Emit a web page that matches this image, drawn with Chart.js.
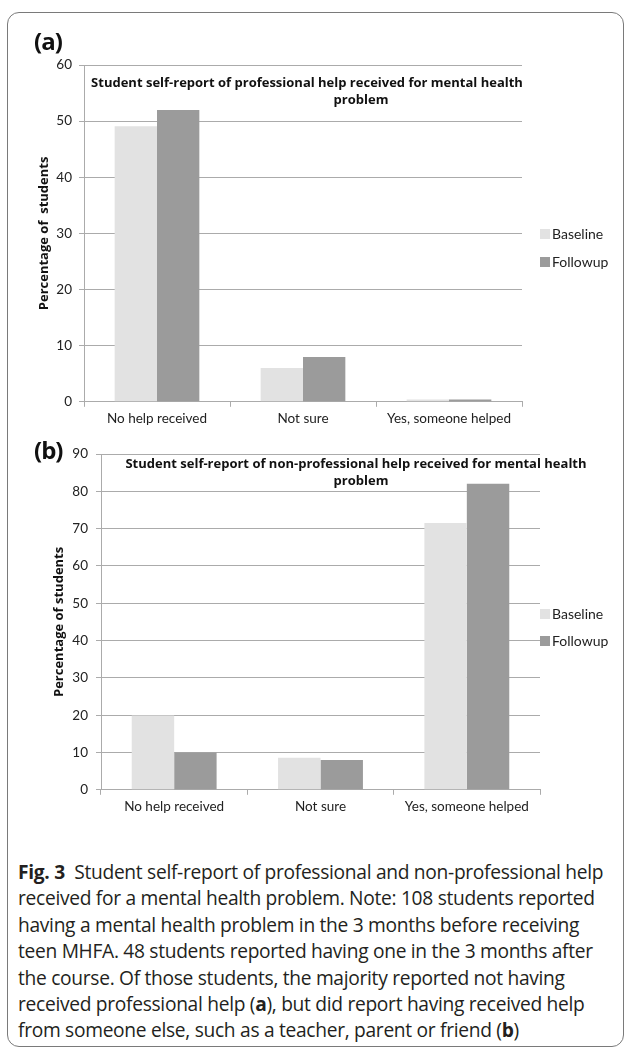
<!DOCTYPE html>
<html>
<head>
<meta charset="utf-8">
<script src="https://cdn.jsdelivr.net/npm/chart.js@4.4.0/dist/chart.umd.min.js"></script>
<style>
  body { margin: 0; background: #fff; width: 632px; height: 1052px; overflow: hidden; font-family: Lato, sans-serif; }
  #frame { position: absolute; left: 7px; top: 12px; width: 615px; height: 1033px; border: 1.5px solid #7a7a7a; border-radius: 12px; }
  .tag { position: absolute; font: bold 24px "Open Sans", sans-serif; color: #111; letter-spacing: -1px; }
  .box { position: absolute; left: 0; width: 632px; }
  #caption { position: absolute; left: 18px; top: 859px; font-family: "Open Sans", sans-serif; font-size: 19.2px; line-height: 26.4px; color: #231f20; white-space: nowrap; letter-spacing: -0.3px; }
</style>
</head>
<body>
<div id="frame"></div>
<div class="box" style="top:0;height:440px"><canvas id="chartA"></canvas></div>
<div class="box" style="top:420px;height:410px"><canvas id="chartB"></canvas></div>
<div class="tag" style="left:34px;top:24px">(a)</div>
<div class="tag" style="left:34px;top:433px">(b)</div>
<div id="caption">
<b>Fig. 3</b>&nbsp; Student self-report of professional and non-professional help<br>
received for a mental health problem. Note: 108 students reported<br>
having a mental health problem in the 3 months before receiving<br>
teen MHFA. 48 students reported having one in the 3 months after<br>
the course. Of those students, the majority reported not having<br>
received professional help (<b>a</b>), but did report having received help<br>
from someone else, such as a teacher, parent or friend (<b>b</b>)
</div>
<script>
const categories = ['No help received', 'Not sure', 'Yes, someone helped'];
const seriesNames = ['Baseline', 'Followup'];

// (a) professional help
const baselineA = [49.1, 6.0, 0.4];
const followupA = [52.0, 8.0, 0.4];
const ticksA = [0, 10, 20, 30, 40, 50, 60];
const titleA = ['Student self-report of professional help received for mental health', 'problem'];

// (b) non-professional help
const baselineB = [19.9, 8.6, 71.5];
const followupB = [10.0, 8.0, 82.0];
const ticksB = [0, 10, 20, 30, 40, 50, 60, 70, 80, 90];
const titleB = ['Student self-report of non-professional help received for mental health', 'problem'];

const colors = ['#e2e2e2', '#9b9b9b'];
const gridColor = '#ababab';
const textColor = '#222';

// chart title drawn inside the plot, like the Excel original
const overTitle = {
  id: 'overTitle',
  afterDraw(chart, args, opts) {
    const ctx = chart.ctx;
    ctx.save();
    ctx.font = 'bold 13px "Open Sans", sans-serif';
    ctx.fillStyle = '#111';
    ctx.textAlign = 'center';
    ctx.textBaseline = 'middle';
    opts.lines.forEach((t, i) => ctx.fillText(t, opts.xs[i], opts.ys[i]));
    ctx.restore();
  }
};

// small legend at the right side
const sideKey = {
  id: 'sideKey',
  afterDraw(chart, args, opts) {
    const ctx = chart.ctx;
    ctx.save();
    ctx.font = '14px Lato, sans-serif';
    ctx.textBaseline = 'middle';
    chart.data.datasets.forEach((ds, i) => {
      const y = opts.y + i * opts.step;
      ctx.fillStyle = ds.backgroundColor;
      ctx.fillRect(opts.x, y - 5, 10, 10);
      ctx.fillStyle = textColor;
      ctx.fillText(ds.label, opts.x + 12, y);
    });
    ctx.restore();
  }
};

function makeChart(id, baseline, followup, ticks, yTitle, pad, yWidth, tickPad, title, key) {
  return new Chart(document.getElementById(id), {
    type: 'bar',
    data: {
      labels: categories,
      datasets: [
        { label: seriesNames[0], data: baseline, backgroundColor: colors[0] },
        { label: seriesNames[1], data: followup, backgroundColor: colors[1] }
      ]
    },
    options: {
      responsive: true,
      maintainAspectRatio: false,
      animation: false,
      categoryPercentage: 0.58,
      barPercentage: 1.0,
      layout: { padding: pad },
      plugins: {
        legend: { display: false },
        tooltip: { enabled: false },
        overTitle: title,
        sideKey: key
      },
      scales: {
        x: {
          grid: { offset: true, drawOnChartArea: false, drawTicks: true, tickLength: 5, color: gridColor },
          border: { color: gridColor },
          ticks: { color: textColor, font: { family: 'Lato', size: 13.5 }, padding: 4 }
        },
        y: {
          min: ticks[0],
          max: ticks[ticks.length - 1],
          afterBuildTicks: (scale) => { scale.ticks = ticks.map(v => ({ value: v })); },
          afterFit: (scale) => { scale.width = yWidth; },
          grid: { color: gridColor, tickLength: 5 },
          border: { color: gridColor },
          ticks: { color: textColor, font: { family: 'Lato', size: 13.5 }, padding: tickPad },
          title: { display: true, text: yTitle, color: '#111', font: { family: 'Open Sans', size: 13, weight: 'bold' } }
        }
      }
    },
    plugins: [overTitle, sideKey]
  });
}

makeChart('chartA', baselineA, followupA, ticksA, 'Percentage of  students',
  { top: 65, left: 32, right: 110, bottom: 9 }, 52, 7,
  { lines: titleA, xs: [307, 361], ys: [83, 100] },
  { x: 540, y: 234, step: 28 });

makeChart('chartB', baselineB, followupB, ticksB, 'Percentage of students',
  { top: 34, left: 47, right: 92, bottom: 11 }, 54, 8,
  { lines: titleB, xs: [356, 361], ys: [44, 61] },
  { x: 540, y: 194, step: 27 });
</script>
</body>
</html>
